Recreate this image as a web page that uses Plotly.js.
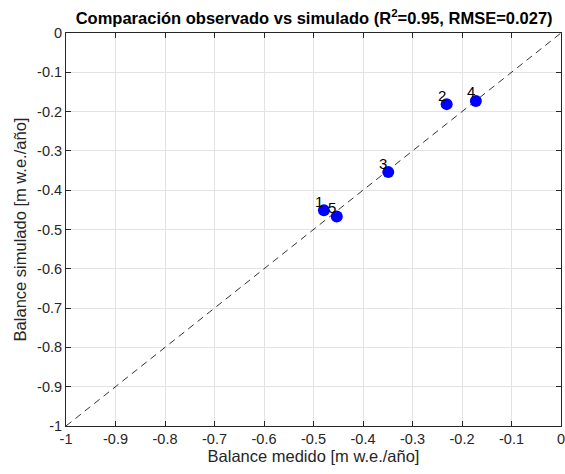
<!DOCTYPE html>
<html>
<head>
<meta charset="utf-8">
<script src="https://cdn.plot.ly/plotly-3.0.1.min.js"></script>
<style>html,body{margin:0;padding:0;background:#fff;}#chart{width:565px;height:474px;}</style>
</head>
<body>
<div id="chart"></div>
<script>
const pointLabels = ['1', '2', '3', '4', '5'];
const observed = [-0.479, -0.231, -0.349, -0.172, -0.453];
const simulated = [-0.451, -0.181, -0.354, -0.173, -0.467];
const lineX = [-1, 0];
const lineY = [-1, 0];
const tickValues = [-1, -0.9, -0.8, -0.7, -0.6, -0.5, -0.4, -0.3, -0.2, -0.1, 0];
const tickLabels = ['-1', '-0.9', '-0.8', '-0.7', '-0.6', '-0.5', '-0.4', '-0.3', '-0.2', '-0.1', '0'];

const font = 'Liberation Sans, Arial, sans-serif';
const axisCommon = {
  range: [-1, 0],
  tickvals: tickValues,
  ticktext: tickLabels,
  ticks: 'inside',
  ticklen: 5,
  tickcolor: '#262626',
  tickwidth: 1,
  showline: true,
  linecolor: '#262626',
  linewidth: 1,
  mirror: 'ticks',
  showgrid: true,
  gridcolor: '#e3e3e3',
  gridwidth: 1,
  zeroline: false,
  ticklabeloverflow: 'allow',
  tickfont: {family: font, size: 14.5, color: '#262626'},
  fixedrange: true
};

const traces = [
  {
    x: lineX, y: lineY, mode: 'lines', type: 'scatter',
    line: {color: '#000000', width: 0.8, dash: '7px,5px'},
    hoverinfo: 'skip', showlegend: false
  },
  {
    x: observed, y: simulated, mode: 'markers', type: 'scatter',
    marker: {color: '#0000ff', size: 12, line: {color: '#0000ff', width: 0}},
    hoverinfo: 'skip', showlegend: false
  }
];

const annotations = pointLabels.map((t, i) => ({
  x: observed[i], y: simulated[i], text: t, showarrow: false,
  xshift: -5, yshift: 9, xref: 'x', yref: 'y',
  font: {family: font, size: 15, color: '#000000'}
}));

const layout = {
  width: 565, height: 474,
  margin: {l: 66, r: 4, t: 33, b: 48},
  paper_bgcolor: '#ffffff', plot_bgcolor: '#ffffff',
  title: {
    text: '<b>Comparación observado vs simulado (R<sup>2</sup>=0.95, RMSE=0.027)</b>',
    font: {family: font, size: 16.5, color: '#000000'},
    x: 0.556, xanchor: 'center', y: 0.962, yanchor: 'middle'
  },
  xaxis: Object.assign({}, axisCommon, {
    title: {text: 'Balance medido [m w.e./año]', font: {family: font, size: 16.5, color: '#262626'}, standoff: 4}
  }),
  yaxis: Object.assign({}, axisCommon, {
    title: {text: 'Balance simulado [m w.e./año]', font: {family: font, size: 16.5, color: '#262626'}, standoff: 6}
  }),
  annotations: annotations,
  showlegend: false
};

Plotly.newPlot('chart', traces, layout, {displayModeBar: false, staticPlot: true});
</script>
</body>
</html>
